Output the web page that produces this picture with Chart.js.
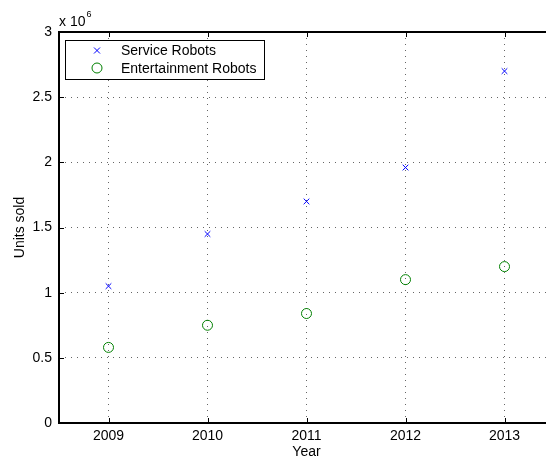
<!DOCTYPE html>
<html>
<head>
<meta charset="utf-8">
<script src="https://cdn.jsdelivr.net/npm/chart.js@4/dist/chart.umd.min.js"></script>
<style>
html,body{margin:0;padding:0;background:#fff;overflow:hidden;width:546px;height:459px;}
#wrap{position:absolute;left:0;top:0;width:560px;height:461px;}
</style>
</head>
<body>
<div id="wrap"><canvas id="c" width="560" height="461"></canvas></div>
<script>
const years = [2009, 2010, 2011, 2012, 2013];
const serviceRobots = [1.05, 1.45, 1.70, 1.96, 2.70];
const entertainmentRobots = [0.58, 0.75, 0.84, 1.10, 1.20];
const yTicks = [0, 0.5, 1, 1.5, 2, 2.5, 3];
const seriesNames = ['Service Robots', 'Entertainment Robots'];

const FONT = 'Liberation Sans, Arial, Helvetica, sans-serif';
const FS = 14;

const framePlugin = {
  id: 'frame',
  afterDraw(chart) {
    const ctx = chart.ctx;
    const a = chart.chartArea;
    const xs = chart.scales.x, ys = chart.scales.y;
    ctx.save();
    ctx.strokeStyle = '#000';
    ctx.lineWidth = 2;
    ctx.beginPath();
    ctx.rect(a.left, a.top, a.right - a.left, a.bottom - a.top);
    ctx.stroke();
    ctx.lineWidth = 1;
    years.forEach(v => {
      const px = Math.round(xs.getPixelForValue(v)) + 0.5;
      ctx.beginPath();
      ctx.moveTo(px, a.bottom); ctx.lineTo(px, a.bottom - 5);
      ctx.moveTo(px, a.top); ctx.lineTo(px, a.top + 5);
      ctx.stroke();
    });
    yTicks.forEach(v => {
      const py = Math.round(ys.getPixelForValue(v)) + 0.5;
      ctx.beginPath();
      ctx.moveTo(a.left, py); ctx.lineTo(a.left + 5, py);
      ctx.moveTo(a.right, py); ctx.lineTo(a.right - 5, py);
      ctx.stroke();
    });
    ctx.fillStyle = '#000';
    ctx.textBaseline = 'alphabetic';
    ctx.textAlign = 'left';
    ctx.font = FS + 'px ' + FONT;
    ctx.fillText('x 10', a.left, 26);
    const w = ctx.measureText('x 10').width;
    ctx.font = '9px ' + FONT;
    ctx.fillText('6', a.left + w + 1, 17);
    // legend
    const lx = 65, ly = 40, lw = 199, lh = 39;
    ctx.fillStyle = '#fff';
    ctx.fillRect(lx, ly, lw, lh);
    ctx.strokeStyle = '#000';
    ctx.lineWidth = 1;
    ctx.strokeRect(lx + 0.5, ly + 0.5, lw, lh);
    const mx = 97;
    let my = 50.5;
    ctx.strokeStyle = '#0000ff';
    ctx.beginPath();
    ctx.moveTo(mx - 3, my - 3); ctx.lineTo(mx + 3, my + 3);
    ctx.moveTo(mx - 3, my + 3); ctx.lineTo(mx + 3, my - 3);
    ctx.stroke();
    my = 68;
    ctx.strokeStyle = '#008000';
    ctx.beginPath();
    ctx.arc(mx, my, 5, 0, Math.PI * 2);
    ctx.stroke();
    ctx.fillStyle = '#000';
    ctx.font = FS + 'px ' + FONT;
    ctx.textBaseline = 'middle';
    ctx.fillText(seriesNames[0], 121, 51);
    ctx.fillText(seriesNames[1], 121, 69);
    ctx.restore();
  }
};

new Chart(document.getElementById('c'), {
  type: 'scatter',
  data: {
    datasets: [
      {
        label: seriesNames[0],
        data: years.map((y, i) => ({x: y, y: serviceRobots[i]})),
        pointStyle: 'crossRot',
        pointRadius: 4,
        pointBorderWidth: 1,
        borderColor: '#0000ff',
        backgroundColor: '#0000ff'
      },
      {
        label: seriesNames[1],
        data: years.map((y, i) => ({x: y, y: entertainmentRobots[i]})),
        pointStyle: 'circle',
        pointRadius: 5,
        pointBorderWidth: 1,
        borderColor: '#008000',
        backgroundColor: 'rgba(0,0,0,0)'
      }
    ]
  },
  options: {
    responsive: false,
    animation: false,
    events: [],
    layout: {padding: {left: 0, top: 32, right: 5, bottom: 0}},
    plugins: {legend: {display: false}, tooltip: {enabled: false}},
    scales: {
      x: {
        type: 'linear',
        min: 2008.5,
        max: 2013.5,
        afterBuildTicks(s) { s.ticks = years.map(v => ({value: v})); },
        afterFit(s) { s.height = 38; },
        border: {display: false, dash: [1, 5]},
        grid: {
          drawTicks: false,
          color: 'rgba(0,0,0,0.6)',
          lineWidth: 1
        },
        ticks: {
          color: '#000',
          padding: 5,
          font: {family: FONT, size: FS},
          callback: v => String(v)
        },
        title: {
          display: true,
          text: 'Year',
          color: '#000',
          font: {family: FONT, size: FS},
          padding: {top: 0, bottom: 0}
        }
      },
      y: {
        min: 0,
        max: 3,
        afterBuildTicks(s) { s.ticks = yTicks.map(v => ({value: v})); },
        afterFit(s) { s.width = 59; },
        border: {display: false, dash: [1, 5]},
        grid: {
          drawTicks: false,
          color: 'rgba(0,0,0,0.6)',
          lineWidth: 1
        },
        ticks: {
          color: '#000',
          padding: 7,
          font: {family: FONT, size: FS},
          callback: v => String(v)
        },
        title: {
          display: true,
          text: 'Units sold',
          color: '#000',
          font: {family: FONT, size: FS},
          padding: {top: 12, bottom: 0}
        }
      }
    }
  },
  plugins: [framePlugin]
});
</script>
</body>
</html>
